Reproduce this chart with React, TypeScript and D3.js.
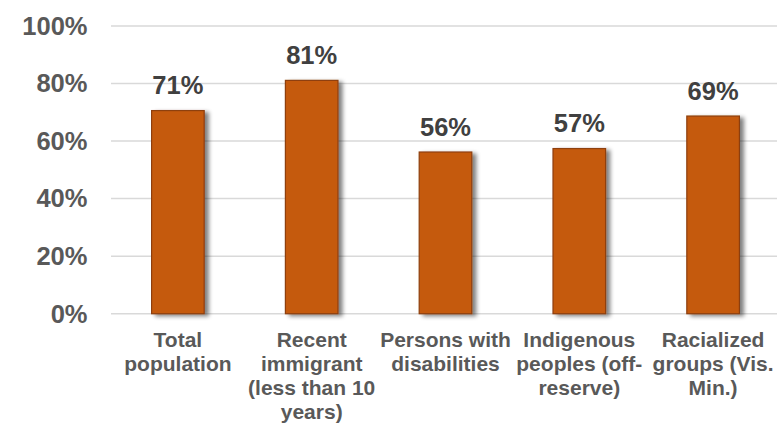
import * as d3 from "d3";
import { useEffect } from "react";

const categories = [
  ["Total", "population"],
  ["Recent", "immigrant", "(less than 10", "years)"],
  ["Persons with", "disabilities"],
  ["Indigenous", "peoples (off-", "reserve)"],
  ["Racialized", "groups (Vis.", "Min.)"],
];
const values = [70.6, 81.1, 56.2, 57.4, 68.7];
const yTicks = [0, 20, 40, 60, 80, 100];

const W = 777;
const H = 426;
const FONT = "'Liberation Sans', Arial, sans-serif";

export default function App() {
  useEffect(() => {
    document.body.style.margin = "0";
  }, []);

  const x = d3
    .scaleBand<number>()
    .domain(categories.map((_, i) => i))
    .range([111, 780])
    .paddingInner(0.607)
    .paddingOuter(0.3035);
  const y = d3.scaleLinear().domain([0, 100]).range([313.7, 26]);

  return (
    <svg width={W} height={H} style={{ display: "block", background: "#fff" }}>
      <defs>
        <filter id="shadow" x="-20%" y="-10%" width="150%" height="130%">
          <feGaussianBlur in="SourceAlpha" stdDeviation="2.2" />
          <feOffset dx="3.5" dy="1.5" result="blur" />
          <feComponentTransfer>
            <feFuncA type="linear" slope="0.5" />
          </feComponentTransfer>
          <feMerge>
            <feMergeNode />
            <feMergeNode in="SourceGraphic" />
          </feMerge>
        </filter>
      </defs>

      {yTicks.map((t) => (
        <g key={t}>
          <line x1={111} x2={W} y1={y(t)} y2={y(t)} stroke="#D9D9D9" strokeWidth={1.5} />
          <text
            x={87.5}
            y={y(t) + 8.8}
            textAnchor="end"
            fontFamily={FONT}
            fontWeight="bold"
            fontSize={25.5}
            fill="#595959"
          >
            {t}%
          </text>
        </g>
      ))}

      {values.map((v, i) => {
        const bx = x(i) ?? 0;
        const cx = bx + x.bandwidth() / 2;
        return (
          <g key={i}>
            <rect
              x={bx}
              y={y(v)}
              width={x.bandwidth()}
              height={y(0) - y(v)}
              fill="#C55A11"
              stroke="#8E3F0C"
              strokeWidth={1.2}
              filter="url(#shadow)"
            />
            <text
              x={cx}
              y={y(v) - 16.5}
              textAnchor="middle"
              fontFamily={FONT}
              fontWeight="bold"
              fontSize={25.5}
              fill="#404040"
            >
              {Math.round(v)}%
            </text>
            <text
              x={cx}
              y={346.7}
              textAnchor="middle"
              fontFamily={FONT}
              fontWeight="bold"
              fontSize={21}
              fill="#595959"
            >
              {categories[i].map((line, j) => (
                <tspan key={j} x={cx} dy={j === 0 ? 0 : 24}>
                  {line}
                </tspan>
              ))}
            </text>
          </g>
        );
      })}
    </svg>
  );
}
